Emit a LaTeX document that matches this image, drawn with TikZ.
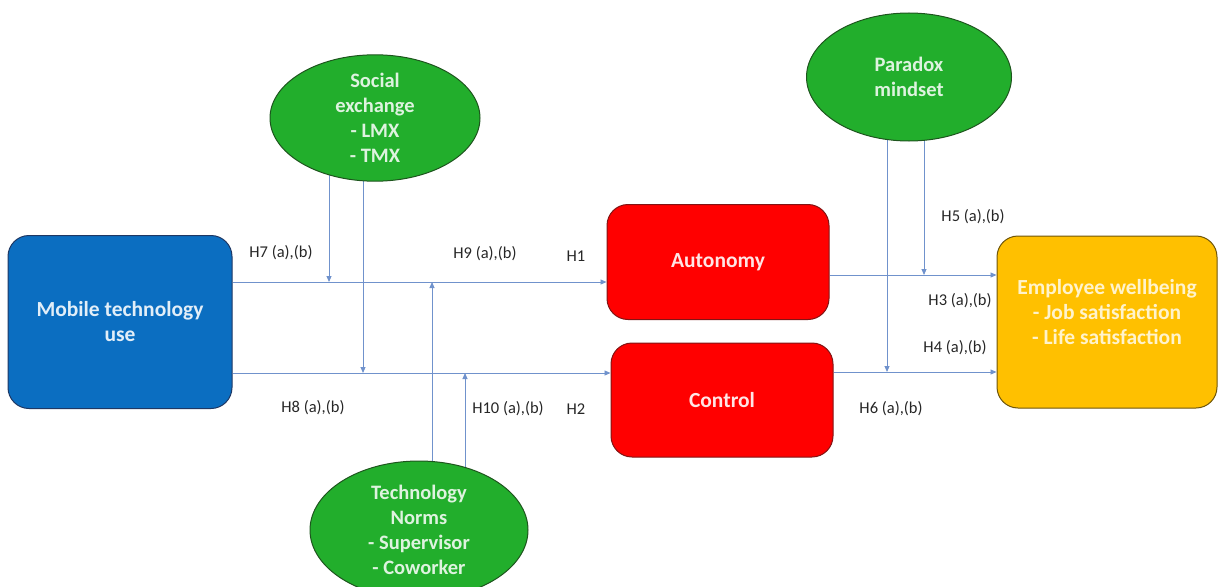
\documentclass[tikz,border=0pt]{standalone}
\usepackage{fontspec}
\setmainfont{Carlito}
\usetikzlibrary{arrows.meta,shapes.geometric,backgrounds}

\definecolor{mobileblue}{RGB}{11,110,193}
\definecolor{mobileline}{RGB}{31,56,100}
\definecolor{medred}{RGB}{255,0,0}
\definecolor{medline}{RGB}{130,20,20}
\definecolor{wellgold}{RGB}{255,192,0}
\definecolor{wellline}{RGB}{110,85,10}
\definecolor{modgreen}{RGB}{34,174,44}
\definecolor{modline}{RGB}{30,85,30}
\definecolor{flowblue}{RGB}{112,146,204}

\begin{document}
\begin{tikzpicture}[x=1pt,y=-1pt,
    box/.style={rectangle, rounded corners=21pt, line width=1pt,
      minimum width=#1, inner sep=0pt, align=center,
      font=\fontsize{21.5}{25}\selectfont\bfseries},
    modifier/.style={ellipse, line width=1pt, fill=modgreen, draw=modline,
      text=white!85!modgreen, inner sep=0pt, align=center,
      font=\fontsize{20.5}{25}\selectfont\bfseries},
    flow/.style={draw=flowblue, line width=0.9pt,
      -{Triangle[length=6pt,width=5pt]}},
    hyp/.style={font=\fontsize{16.5}{19}\selectfont, text=black!85}]
  \useasboundingbox (0,0) rectangle (1225,586);

  % boxes
  \node[box=224pt, minimum height=173pt, fill=mobileblue, draw=mobileline,
    text=white!88!mobileblue] (mobile) at (120,322) {Mobile technology\\use};
  \node[box=222pt, minimum height=115pt, fill=medred, draw=medline,
    text=white!90!medred] (auto) at (718,262) {Autonomy};
  \node[box=222pt, minimum height=114pt, fill=medred, draw=medline,
    text=white!90!medred] (ctrl) at (722,400) {Control};
  \node[box=220pt, minimum height=172pt, fill=wellgold, draw=wellline] (well) at (1107,322) {};
  \node[align=center, font=\fontsize{21.5}{25}\selectfont\bfseries,
    text=white!80!wellgold] (welltext) at (1107,312)
    {Employee wellbeing\\- Job satisfaction\\- Life satisfaction};

  % moderators
  \node[modifier, minimum width=210pt, minimum height=124pt] (social) at (375,118)
    {Social\\exchange\\- LMX\\- TMX};
  \node[modifier, minimum width=205pt, minimum height=128pt] (paradox) at (909,77)
    {Paradox\\mindset};
  \node[modifier, minimum width=218pt, minimum height=138pt] (norms) at (419,530)
    {Technology\\Norms\\- Supervisor\\- Coworker};

  % where the moderating arrows meet the paths
  \coordinate (h7) at (329,282);
  \coordinate (h9) at (432,282);
  \coordinate (h8) at (363,373);
  \coordinate (h10) at (465,373);
  \coordinate (h5) at (924,275);
  \coordinate (h6) at (887,372);

  \begin{pgfonlayer}{background}
    \draw[flow] (mobile.east |- h7) -- (auto.west |- h7);
    \draw[flow] (mobile.east |- h8) -- (ctrl.west |- h8);
    \draw[flow] (auto.east |- h5) -- (well.west |- h5);
    \draw[flow] (ctrl.east |- h6) -- (well.west |- h6);
    \draw[flow] (social.center -| h7) -- (h7);
    \draw[flow] (social.center -| h8) -- (h8);
    \draw[flow] (norms.center -| h9) -- (h9);
    \draw[flow] (norms.center -| h10) -- (h10);
    \draw[flow] (paradox.center -| h5) -- (h5);
    \draw[flow] (paradox.center -| h6) -- (h6);
  \end{pgfonlayer}

  % hypotheses
  \node[hyp] (lh7) at (281,253) {H7 (a),(b)};
  \node[hyp] (lh9) at (485,254) {H9 (a),(b)};
  \node[hyp] (lh1) at (576,256) {H1};
  \node[hyp] (lh8) at (313,408) {H8 (a),(b)};
  \node[hyp] (lh10) at (508,409) {H10 (a),(b)};
  \node[hyp] (lh2) at (576,409) {H2};
  \node[hyp] (lh5) at (973,217) {H5 (a),(b)};
  \node[hyp] (lh3) at (960,301) {H3 (a),(b)};
  \node[hyp] (lh4) at (955,348) {H4 (a),(b)};
  \node[hyp] (lh6) at (891,409) {H6 (a),(b)};
\end{tikzpicture}
\end{document}
